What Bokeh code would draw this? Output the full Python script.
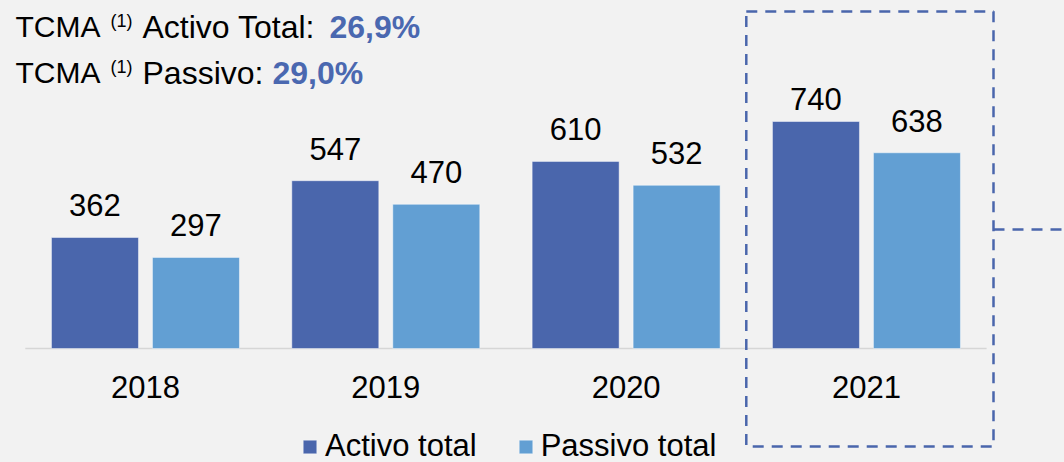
from bokeh.plotting import figure
from bokeh.models import ColumnDataSource, Range1d, Legend, LegendItem
from bokeh.transform import dodge
from bokeh.core.properties import value
from bokeh.embed import file_html
from bokeh.resources import INLINE
from jinja2 import Template

# ---- data ----
years = ["2018", "2019", "2020", "2021"]
activo_total = [362, 547, 610, 740]
passivo_total = [297, 470, 532, 638]
series_names = ["Activo total", "Passivo total"]
tcma_activo = "26,9%"
tcma_passivo = "29,0%"

# ---- style / layout constants ----
W, H = 1064, 462
BG = "#F2F2F2"
DARK = "#4A66AC"
LIGHT = "#629FD3"
ACCENT = "#4A68B0"
FONT = "Liberation Sans"
FS = "31px"
SHIFT = -11          # empirical baseline correction for text glyphs

X0PX = 24.8          # pixel of group-axis origin
XS = 240.33          # pixels per category
BASE = 348.0         # pixel of y = 0
YS = 227.0 / 740.0   # pixels per unit

def sx(px):
    return (px - X0PX) / XS

def sy(py):
    return (BASE - py) / YS

# label gaps above bars (px); last activo label sits closer to its bar
activo_gap = [21, 21, 21, 12]
passivo_gap = [21, 21, 21, 21]

xs = [i + 0.5 for i in range(len(years))]
src = ColumnDataSource(data=dict(x=xs, year=years,
                                 activo=activo_total, passivo=passivo_total,
                                 activo_lbl=[str(v) for v in activo_total],
                                 passivo_lbl=[str(v) for v in passivo_total],
                                 a_off=[-g + SHIFT for g in activo_gap],
                                 p_off=[-g + SHIFT for g in passivo_gap]))

p = figure(width=W, height=H, output_backend="svg", toolbar_location=None,
           x_range=Range1d(sx(0), sx(W)), y_range=Range1d(sy(H), sy(0)),
           x_axis_location=None, y_axis_location=None, min_border=0,
           background_fill_color=BG, border_fill_color=BG, outline_line_color=None)
p.xgrid.visible = False
p.ygrid.visible = False

# baseline (category axis line)
p.segment(x0=[0], y0=[0], x1=[len(years)], y1=[0], line_color="#D6D6D6", line_width=1.5)

BW = 0.362
OFFS = 0.2101
r1 = p.vbar(x=dodge("x", -OFFS), top="activo", width=BW, bottom=0, source=src,
            fill_color=DARK, line_color="#FFFFFF", line_alpha=0.45, line_width=1)
r2 = p.vbar(x=dodge("x", OFFS), top="passivo", width=BW, bottom=0, source=src,
            fill_color=LIGHT, line_color="#FFFFFF", line_alpha=0.45, line_width=1)

# value labels
p.text(x=dodge("x", -OFFS), y="activo", text="activo_lbl", source=src,
       text_align="center", text_baseline="alphabetic", y_offset="a_off",
       text_font=value(FONT), text_font_size=FS, text_color="#000000")
p.text(x=dodge("x", OFFS), y="passivo", text="passivo_lbl", source=src,
       text_align="center", text_baseline="alphabetic", y_offset="p_off",
       text_font=value(FONT), text_font_size=FS, text_color="#000000")

# category labels
p.text(x="x", y=0, text="year", source=src, text_align="center",
       text_baseline="alphabetic", y_offset=49.5 + SHIFT,
       text_font=value(FONT), text_font_size=FS, text_color="#000000")

# header texts
def t(px, py, s, size=FS, bold=False, color="#000000"):
    p.text(x=[sx(px)], y=[sy(py)], text=[s], text_align="left",
           text_baseline="alphabetic", y_offset=SHIFT, text_font=value(FONT),
           text_font_size=size, text_font_style="bold" if bold else "normal",
           text_color=color)

t(15, 37, "TCMA", size="30px")
t(110, 31, "(1)", size="18px")
t(142, 37, "Activo Total:", size="32px")
t(329, 37, tcma_activo, size="32px", bold=True, color=ACCENT)
t(15, 83, "TCMA", size="30px")
t(110, 77, "(1)", size="18px")
t(142, 83, "Passivo:", size="32px")
t(272, 83, tcma_passivo, size="32px", bold=True, color=ACCENT)

# highlight box around the last year
hl = years.index("2021")
p.quad(left=[hl], right=[sx(993)], top=[sy(11)], bottom=[sy(446)],
       fill_color=None, line_color=DARK, line_width=2.5, line_dash="11 8")
p.segment(x0=[sx(993)], y0=[sy(229)], x1=[sx(W + 5)], y1=[sy(229)],
          line_color=DARK, line_width=2.5, line_dash="11 8")

legend = Legend(items=[LegendItem(label=series_names[0], renderers=[r1]),
                       LegendItem(label=series_names[1], renderers=[r2])],
                orientation="horizontal", location=(301, -2),
                glyph_width=17, glyph_height=17, label_standoff=7, spacing=40,
                padding=0, margin=0, background_fill_alpha=0, border_line_alpha=0,
                label_text_font=FONT, label_text_font_size=FS, label_text_color="#000000")
p.add_layout(legend, "center")

tmpl = Template("""{% extends base %}
{% block preamble %}<style>html, body { margin: 0 !important; padding: 0 !important; overflow: hidden; background: #F2F2F2; }</style>{% endblock %}""")

open("out.html", "w").write(file_html(p, INLINE, template=tmpl))
